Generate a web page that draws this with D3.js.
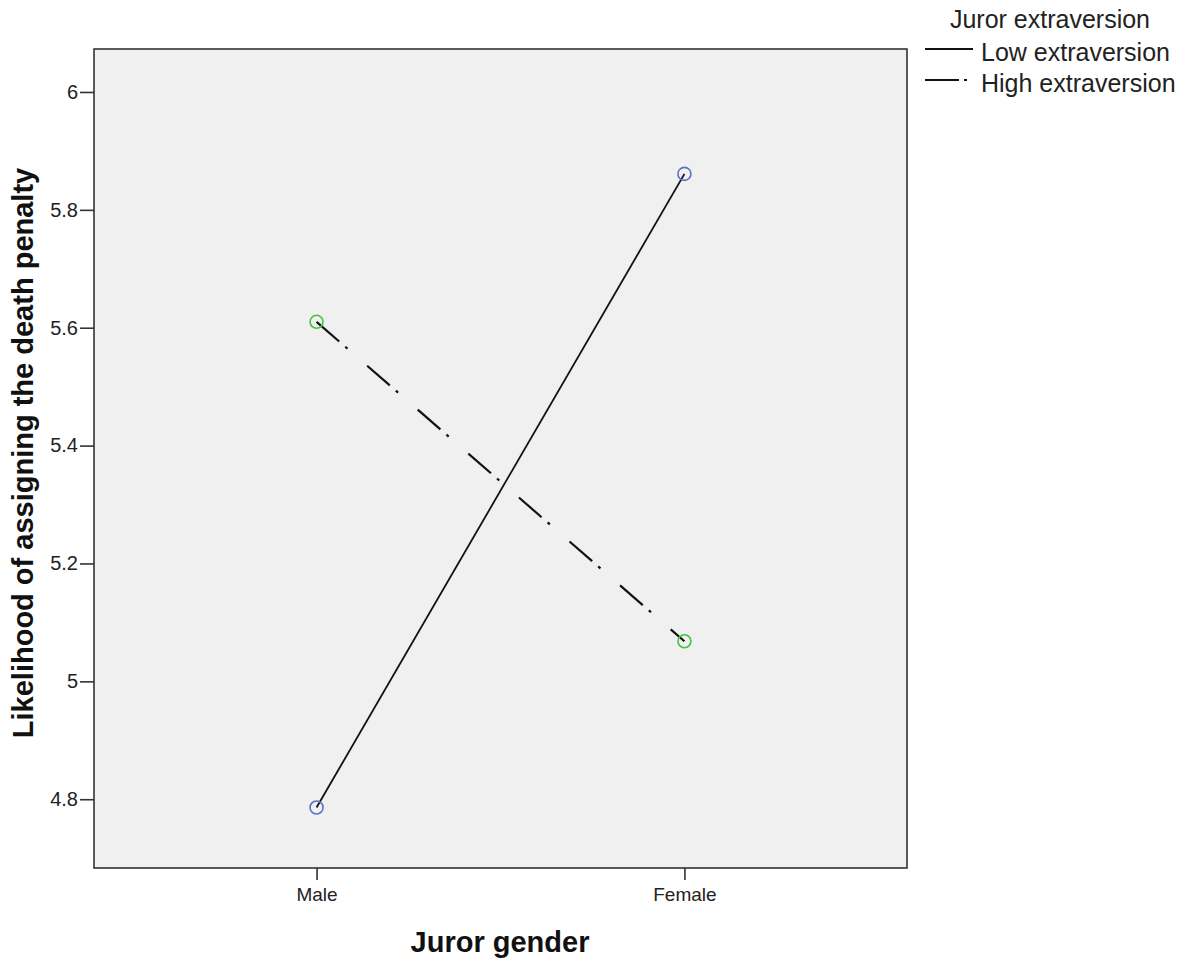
<!DOCTYPE html>
<html><head><meta charset="utf-8">
<script src="https://cdn.jsdelivr.net/npm/d3@7"></script>
<style>body{margin:0;background:#fff;} svg{display:block;font-family:"Liberation Sans",Arial,sans-serif;}</style>
</head><body>
<svg id="chart" width="1193" height="964"></svg>
<script>
const categories = ["Male", "Female"];
const lowExtraversion = [4.786, 5.861];
const highExtraversion = [5.610, 5.068];
const yTicks = [4.8, 5, 5.2, 5.4, 5.6, 5.8, 6];
const seriesNames = ["Low extraversion", "High extraversion"];

const svg = d3.select("#chart");
const FONT = "Liberation Sans, Arial, sans-serif";
const L = 94, R = 907, T = 49, B = 868;
const x = d3.scalePoint().domain(categories).range([L, R]).padding(0.605);
const y = d3.scaleLinear().domain([4.6833, 6.0729]).range([B, T]);

svg.append("rect").attr("x", L).attr("y", T).attr("width", R - L).attr("height", B - T)
  .attr("fill", "#f0f0f0").attr("stroke", "#333").attr("stroke-width", 1.6);

const yAxis = svg.append("g").attr("transform", `translate(${L},0)`)
  .call(d3.axisLeft(y).tickValues(yTicks).tickSize(14).tickPadding(2).tickSizeOuter(0).tickFormat(d => d3.format("~g")(d)));
yAxis.select(".domain").remove();
yAxis.selectAll("line").attr("stroke", "#333").attr("stroke-width", 1.6);
yAxis.selectAll("text").attr("font-size", 20).attr("fill", "#222").attr("font-family", FONT);

const xAxis = svg.append("g").attr("transform", `translate(0,${B})`)
  .call(d3.axisBottom(x).tickSize(12).tickSizeOuter(0).tickPadding(8));
xAxis.select(".domain").remove();
xAxis.selectAll("line").attr("stroke", "#333").attr("stroke-width", 1.6);
xAxis.selectAll("text").attr("font-size", 19).attr("fill", "#222").attr("font-family", FONT);

const line = d3.line().x((d, i) => x(categories[i])).y(d => y(d));
svg.append("path").datum(lowExtraversion).attr("d", line)
  .attr("fill", "none").attr("stroke", "#111").attr("stroke-width", 1.8);
svg.append("path").datum(highExtraversion).attr("d", line)
  .attr("fill", "none").attr("stroke", "#111").attr("stroke-width", 2.2).attr("stroke-dasharray", "30,8,3,26");

svg.selectAll("circle.low").data(lowExtraversion).join("circle")
  .attr("cx", (d, i) => x(categories[i])).attr("cy", d => y(d)).attr("r", 6.5)
  .attr("fill", "none").attr("stroke", "#5b70c9").attr("stroke-width", 1.6);
svg.selectAll("circle.high").data(highExtraversion).join("circle")
  .attr("cx", (d, i) => x(categories[i])).attr("cy", d => y(d)).attr("r", 6.5)
  .attr("fill", "none").attr("stroke", "#3fc43f").attr("stroke-width", 1.6);

svg.append("text").attr("x", 500).attr("y", 952).attr("text-anchor", "middle")
  .attr("font-size", 29).attr("font-weight", "bold").attr("fill", "#111").text("Juror gender");
svg.append("text").attr("transform", `translate(33,453) rotate(-90)`).attr("text-anchor", "middle")
  .attr("font-size", 29).attr("font-weight", "bold").attr("fill", "#111").text("Likelihood of assigning the death penalty");

// legend
svg.append("text").attr("x", 1050).attr("y", 28).attr("text-anchor", "middle")
  .attr("font-size", 25).attr("fill", "#222").text("Juror extraversion");
const lg = svg.append("g");
const dashes = [null, "34,5,3,10"];
seriesNames.forEach((n, i) => {
  const yy = 49 + i * 31;
  const l = lg.append("line").attr("x1", 925).attr("x2", 973).attr("y1", yy).attr("y2", yy)
    .attr("stroke", "#111").attr("stroke-width", 2);
  if (dashes[i]) l.attr("stroke-dasharray", dashes[i]);
  lg.append("text").attr("x", 981).attr("y", yy + 12).attr("font-size", 25).attr("fill", "#222").text(n);
});
</script>
</body></html>
